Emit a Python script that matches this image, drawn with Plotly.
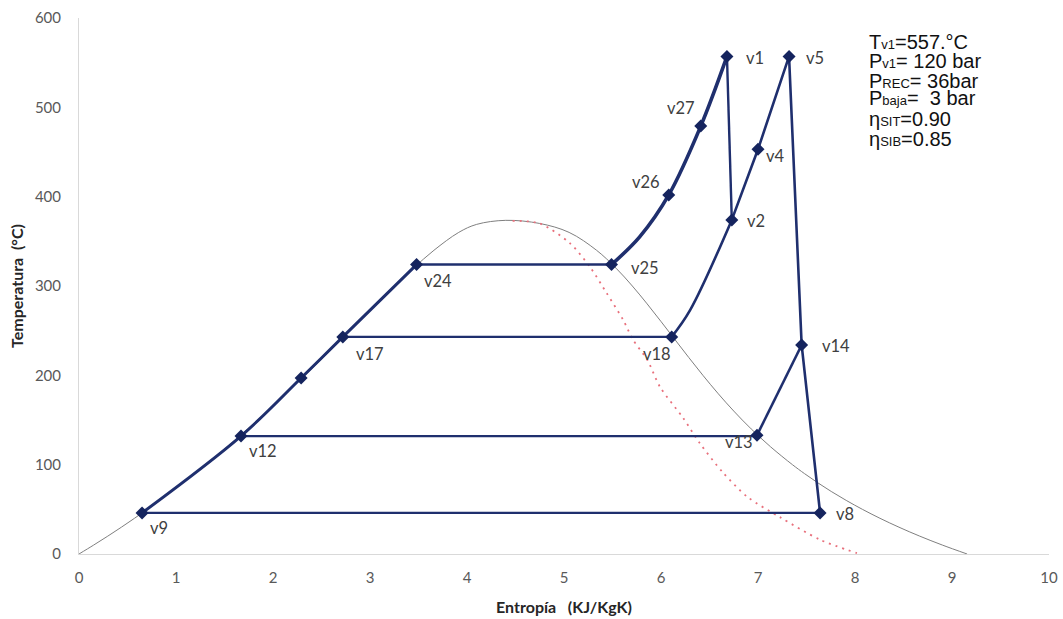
import plotly.graph_objects as go

# ---------------- data ----------------
# Saturation dome of water (entropy kJ/kgK, temperature C)
dome_T_left = [0.01, 10, 20, 30, 40, 50, 60, 70, 80, 90, 100, 120, 140, 160, 180, 200,
               220, 240, 260, 280, 300, 320, 340, 360]
dome_sf = [0.0, 0.151, 0.2966, 0.4369, 0.5724, 0.7038, 0.8312, 0.9549, 1.0753, 1.1925,
           1.3069, 1.5276, 1.7391, 1.9427, 2.1396, 2.3309, 2.5178, 2.7015, 2.8838, 3.0668,
           3.2534, 3.448, 3.6594, 3.9147]
dome_sg = [9.1556, 8.9008, 8.6672, 8.4533, 8.257, 8.0763, 7.9096, 7.7553, 7.6122, 7.4791,
           7.3549, 7.1296, 6.9299, 6.7502, 6.5857, 6.4323, 6.2861, 6.1437, 6.0019, 5.8571,
           5.7045, 5.5362, 5.3357, 5.0526]
top_s = [4.10, 4.40, 4.75]
top_T = [369, 373.5, 370]

# Red dotted curve
red_s = [4.47, 4.75, 5.06, 5.27, 5.44, 5.61, 5.71, 5.86, 5.99, 6.23, 6.40, 6.64, 6.89, 7.23, 7.64, 8.02]
red_T = [373, 370, 348, 321, 292, 262, 240, 217, 187, 152, 124, 91, 64, 41, 16, 1]

# State points
pt_names = ["v1", "v5", "v27", "v26", "v2", "v4", "v25", "v24", "v17", "v18",
            "v14", "v13", "v12", "v9", "v8", ""]
pt_s = [6.68, 7.32, 6.41, 6.08, 6.73, 7.00, 5.49, 3.48, 2.72, 6.11,
        7.45, 6.99, 1.67, 0.65, 7.64, 2.29]
pt_T = [557, 557, 479, 402, 374, 453, 324, 324, 243, 243,
        234, 133, 132, 46, 46, 197]
# label offsets in pixels (dx right, dy up)
lab_dx = [28, 26, -20, -23, 24, 17, 33, 21, 27, -15, 34, -18, 22, 17, 25, 0]
lab_dy = [-2, -2, 18, 13, -1, -7, -3, -16, -17, -17, -1, -7, -15, -15, -1, 0]

# Process lines
liq_s = [0.65, 1.67, 2.29, 2.72, 3.48]
liq_T = [46, 132, 197, 243, 324]
boil_s = [3.48, 5.49]
boil_T = [324, 324]
sh_s = [5.49, 5.78, 6.08, 6.41, 6.68]
sh_T = [324, 355, 402, 479, 557]
hpt_s = [6.68, 6.73]
hpt_T = [557, 374]
mid_s = [6.11, 6.30, 6.73]
mid_T = [243, 273, 374]
rh_s = [6.73, 7.00, 7.32]
rh_T = [374, 453, 557]
lpt_s = [7.32, 7.45, 7.64]
lpt_T = [557, 234, 46]
h36_s = [2.72, 6.11]
h36_T = [243, 243]
h3_s = [1.67, 6.99]
h3_T = [132, 132]
ext_s = [6.99, 7.45]
ext_T = [133, 234]
cond_s = [0.65, 7.64]
cond_T = [46, 46]

SUB = '<span style="font-size:13px">%s</span>'
info_main = ["T", "P", "P", "P", "η", "η"]
info_sub = ["v1", "v1", "REC", "baja", "SIT", "SIB"]
info_rest = ["=557.°C", "= 120 bar", "= 36bar", "=\u00a0 3 bar", "=0.90", "=0.85"]
info_T = [573, 552, 530, 510, 487, 465]

# ---------------- figure ----------------
NAVY = "#1f2f6e"
fig = go.Figure()

dome_s = dome_sf + top_s + dome_sg[::-1]
dome_T = dome_T_left + top_T + dome_T_left[::-1]
fig.add_trace(go.Scatter(x=dome_s, y=dome_T, mode="lines",
                         line=dict(color="#7f7f7f", width=1, shape="spline", smoothing=1),
                         hoverinfo="skip"))
fig.add_trace(go.Scatter(x=red_s, y=red_T, mode="lines",
                         line=dict(color="#e8707c", width=1.8, dash="2px,5px",
                                   shape="spline", smoothing=0.8),
                         hoverinfo="skip"))

def add_line(xs, ys, w=2.5, spline=False):
    fig.add_trace(go.Scatter(x=xs, y=ys, mode="lines",
                             line=dict(color=NAVY, width=w,
                                       shape="spline" if spline else "linear", smoothing=1)))

add_line(cond_s, cond_T, 2.4)
add_line(h3_s, h3_T, 2.4)
add_line(h36_s, h36_T, 2.4)
add_line(boil_s, boil_T, 2.6)
add_line(liq_s, liq_T, 3, spline=True)
add_line(sh_s, sh_T, 3.6, spline=True)
add_line(hpt_s, hpt_T, 2.4)
add_line(mid_s, mid_T, 2.6, spline=True)
add_line(rh_s, rh_T, 2.6)
add_line(lpt_s, lpt_T, 2.6)
add_line(ext_s, ext_T, 2.6)

fig.add_trace(go.Scatter(x=pt_s, y=pt_T, mode="markers",
                         marker=dict(symbol="diamond", size=10, color="#15245e")))

annotations = []
for n, s, t, dx, dy in zip(pt_names, pt_s, pt_T, lab_dx, lab_dy):
    if not n:
        continue
    annotations.append(dict(x=s, y=t, xref="x", yref="y", text=n, showarrow=False,
                            xshift=dx, yshift=dy, xanchor="center", yanchor="middle",
                            font=dict(family="Lato", size=16.5, color="#404040")))
for m, sb, r, t in zip(info_main, info_sub, info_rest, info_T):
    annotations.append(dict(x=8.12, y=t, xref="x", yref="y", text=m + (SUB % sb) + r,
                            showarrow=False, xanchor="left", yanchor="middle",
                            font=dict(family="Liberation Sans, Arial", size=20, color="#111111")))

fig.update_layout(
    width=1063, height=619,
    margin=dict(l=79, r=14, t=18, b=65, autoexpand=False),
    plot_bgcolor="white", paper_bgcolor="white",
    showlegend=False,
    annotations=annotations,
    xaxis=dict(range=[0, 10], dtick=1, showgrid=False, zeroline=False, automargin=False,
               showline=True, linecolor="#d9d9d9", linewidth=1,
               ticks="outside", ticklen=10, tickcolor="rgba(0,0,0,0)",
               tickfont=dict(family="Lato", size=15, color="#595959"),
               title=dict(text="Entropía\u00a0\u00a0\u00a0(KJ/KgK)",
                          font=dict(family="Lato", size=16, color="#262626", weight="bold"),
                          standoff=16)),
    yaxis=dict(range=[0, 600], dtick=100, showgrid=False, zeroline=False, automargin=False,
               showline=True, linecolor="#d9d9d9", linewidth=1,
               ticks="outside", ticklen=14, tickcolor="rgba(0,0,0,0)",
               tickfont=dict(family="Lato", size=15, color="#595959"),
               title=dict(text="Temperatura\u00a0\u00a0(°C)",
                          font=dict(family="Lato", size=16, color="#262626", weight="bold"),
                          standoff=7)),
)

fig.write_html("out.html")
